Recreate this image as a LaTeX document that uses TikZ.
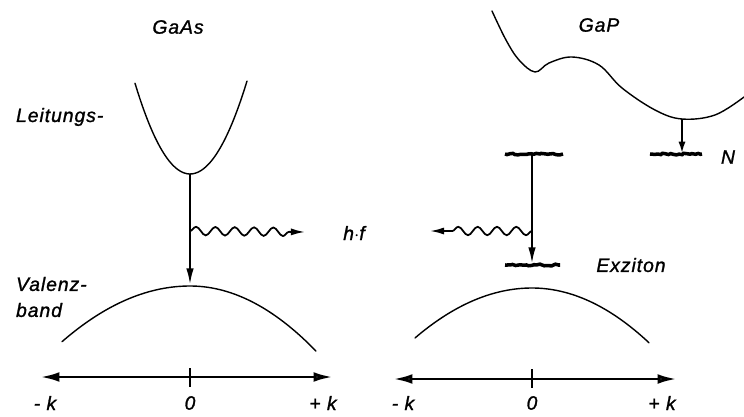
\documentclass[tikz,border=0pt]{standalone}
\usepackage{fontspec}
\newfontfamily\lblfont{Liberation Sans}[LetterSpace=5.0, FakeBold=1.2]
\usetikzlibrary{arrows.meta,decorations.pathmorphing}
\tikzset{
  band-curve/.style={line width=0.8pt, line cap=round},
  band-arrow/.style={-{Latex[length=10pt,width=4.2pt]}, line width=1.5pt},
  k-axis/.style={line width=1.7pt},
  band-level/.style={line width=2pt, decorate,
    decoration={random steps, segment length=1.5pt, amplitude=0.5pt}},
  photon/.style={-{Latex[length=8pt,width=4pt]}, line width=1pt, decorate,
    decoration={snake, amplitude=2.4pt, segment length=11pt, post length=8pt}},
  band-label/.style={font=\fontsize{11}{13}\lblfont\itshape, inner sep=1pt}
}

\begin{document}
\begin{tikzpicture}[x=0.02cm, y=-0.02cm]
  \useasboundingbox (0,0) rectangle (744,416);

  % ---------------- GaAs (direct) ----------------
  \node[band-label] (gaas) at (178,27) {GaAs};
  \node[band-label, anchor=west] (leit) at (14,117) {Leitungs-};
  \node[band-label, anchor=west] (valenz) at (14,284) {Valenz-};
  \node[band-label, anchor=west] (band) at (14,310) {band};

  % conduction and valence band
  \draw[band-curve] plot[domain=-5.5:5.7, samples=40, smooth]
    ({190+10*\x},{174-(\x<0?3.0:2.86)*\x*\x});
  \draw[band-curve] plot[domain=-12.8:12.6, samples=50, smooth]
    ({190+10*\x},{286+(\x<0?0.34:0.41)*\x*\x});

  % transition with photon
  \coordinate (cbL) at (190,174);
  \coordinate (vbL) at (190,286);
  \coordinate (emitL) at (190,231);
  \coordinate (photL) at (305,232);
  \draw[band-arrow] (cbL) -- (vbL);
  \draw[photon] (emitL) -- (photL);
  \node[band-label] (hf) at (354,233) {h$\cdot$f};

  % k axis
  \coordinate (axLl) at (40,377);
  \coordinate (axLr) at (333,377);
  \draw[k-axis, {Latex[length=11pt,width=5.5pt]}-{Latex[open,length=11pt,width=5.5pt]}] (axLl) -- (axLr);
  \draw[k-axis] (190,368) -- (190,387);
  \node[band-label] (mkL) at (45,403) {- k};
  \node[band-label] (zeroL) at (190,403) {0};
  \node[band-label] (pkL) at (323,403) {+ k};

  % ---------------- GaP (indirect) ----------------
  \node[band-label] (gap) at (599,25) {GaP};
  \draw[band-curve] plot[smooth, tension=0.6] coordinates {
    (492,11) (506,40) (519,60) (535,72) (549,63) (572,57) (599,65)
    (622,88) (655,110) (682,119) (715,115) (744,97)};
  \draw[band-curve] plot[domain=-11.7:11.7, samples=50, smooth]
    ({532+10*\x},{288+(\x<0?0.365:0.40)*\x*\x});

  % exciton levels
  \draw[band-level] (505,154) -- (563,154);
  \draw[band-level] (505,265) -- (560,265);
  \coordinate (exTop) at (532,154);
  \coordinate (exBot) at (532,265);
  \coordinate (emitR) at (532,231);
  \coordinate (photR) at (430,231);
  \draw[band-arrow] (exTop) -- (exBot);
  \draw[photon] (emitR) -- (photR);
  \node[band-label] (exz) at (631,265) {Exziton};

  % N level
  \draw[band-level] (650,154) -- (702,154);
  \coordinate (cbR) at (682,119);
  \coordinate (nLev) at (682,154);
  \draw[band-arrow, -{Latex[length=7pt,width=4pt]}] (cbR) -- (nLev);
  \node[band-label] (nlbl) at (728,157) {N};

  % k axis
  \coordinate (axRl) at (393,379);
  \coordinate (axRr) at (677,379);
  \draw[k-axis, {Latex[open,length=11pt,width=5.5pt]}-{Latex[open,length=11pt,width=5.5pt]}] (axRl) -- (axRr);
  \draw[k-axis] (532,369) -- (532,388);
  \node[band-label] (mkR) at (403,403) {- k};
  \node[band-label] (zeroR) at (532,403) {0};
  \node[band-label] (pkR) at (662,403) {+ k};
\end{tikzpicture}
\end{document}
